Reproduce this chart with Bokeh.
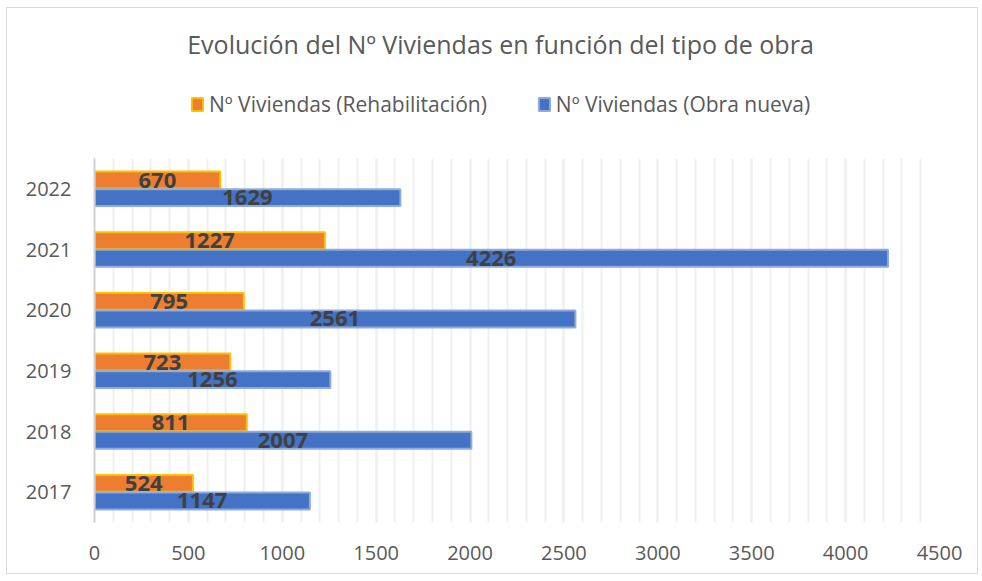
from bokeh.plotting import figure
from bokeh.layouts import column
from bokeh.models import (ColumnDataSource, FactorRange, Range1d, SingleIntervalTicker,
                          Legend, LegendItem, Label)
from bokeh.transform import dodge
from bokeh.core.properties import value
from bokeh.embed import file_html
from bokeh.resources import INLINE

years = ["2017", "2018", "2019", "2020", "2021", "2022"]
rehabilitacion = [524, 811, 723, 795, 1227, 670]
obra_nueva = [1147, 2007, 1256, 2561, 4226, 1629]
series_names = ["Nº Viviendas (Rehabilitación)", "Nº Viviendas (Obra nueva)"]
title_text = "Evolución del Nº Viviendas en función del tipo de obra"

FONT = "Open Sans"
GREY = "#595959"
ORANGE, ORANGE_LINE = "#ED7D31", "#FFC000"
BLUE, BLUE_LINE = "#4472C4", "#8FAADC"

src = ColumnDataSource(dict(
    year=years,
    reh=rehabilitacion,
    obra=obra_nueva,
    reh_half=[v / 2 for v in rehabilitacion],
    obra_half=[v / 2 for v in obra_nueva],
    reh_lbl=[str(v) for v in rehabilitacion],
    obra_lbl=[str(v) for v in obra_nueva],
))

W = 966
ML, MR = 87, 34

# ---------- header (title + legend) ----------
HH = 150
hdr = figure(width=W, height=HH, x_range=Range1d(ML, W - MR), y_range=Range1d(0, HH),
             x_axis_type=None, y_axis_type=None,
             min_border_left=ML, min_border_right=MR, min_border_top=0, min_border_bottom=0,
             output_backend="svg", toolbar_location=None)
hdr.grid.visible = False
hdr.outline_line_color = None
hdr.add_layout(Label(x=493, y=115, text=title_text, text_align="center",
                     text_baseline="alphabetic", text_font=FONT, text_font_size="25px",
                     text_color=GREY))
offscreen = ColumnDataSource(dict(y=[-1000], right=[-1000]))
d1 = hdr.hbar(y="y", right="right", left=-1001, height=1, source=offscreen,
              fill_color=ORANGE, line_color=ORANGE_LINE, line_width=2)
d2 = hdr.hbar(y="y", right="right", left=-1001, height=1, source=offscreen,
              fill_color=BLUE, line_color=BLUE_LINE, line_width=2)
legend = Legend(items=[LegendItem(label=series_names[0], renderers=[d1]),
                       LegendItem(label=series_names[1], renderers=[d2])],
                orientation="horizontal", location=(183 - ML, 40),
                border_line_color=None, background_fill_alpha=0,
                label_text_font=FONT, label_text_font_size="21px", label_text_color=GREY,
                glyph_width=14, glyph_height=16, spacing=50, label_standoff=5,
                margin=0, padding=0)
hdr.add_layout(legend)

# ---------- main chart ----------
p = figure(
    y_range=FactorRange(factors=years),
    x_range=Range1d(0, 4500),
    width=W, height=415,
    min_border_left=ML, min_border_right=MR, min_border_top=0, min_border_bottom=51,
    output_backend="svg", toolbar_location=None,
)
p.outline_line_color = None

off = 0.145
h = 0.28
p.hbar(y=dodge("year", off, range=p.y_range), right="reh", left=0, height=h, source=src,
       fill_color=ORANGE, line_color=ORANGE_LINE, line_width=2)
p.hbar(y=dodge("year", -off, range=p.y_range), right="obra", left=0, height=h, source=src,
       fill_color=BLUE, line_color=BLUE_LINE, line_width=2)

p.text(x="reh_half", y=dodge("year", off, range=p.y_range), text="reh_lbl", source=src,
       text_align="center", text_baseline="middle", text_font=value(FONT),
       text_font_style="bold", text_font_size="22px", text_color="#404040")
p.text(x="obra_half", y=dodge("year", -off, range=p.y_range), text="obra_lbl", source=src,
       text_align="center", text_baseline="middle", text_font=value(FONT),
       text_font_style="bold", text_font_size="22px", text_color="#404040")

p.xaxis.ticker = SingleIntervalTicker(interval=500, num_minor_ticks=5)
p.xaxis.axis_line_color = None
p.xaxis.major_tick_line_color = None
p.xaxis.minor_tick_line_color = None
p.xaxis.major_tick_out = 0
p.xaxis.major_label_standoff = 19
p.xaxis.major_label_text_font = FONT
p.xaxis.major_label_text_font_size = "20px"
p.xaxis.major_label_text_color = GREY

p.yaxis.axis_line_color = "#D0D0D0"
p.yaxis.axis_line_width = 2
p.yaxis.major_tick_line_color = None
p.yaxis.major_tick_out = 0
p.yaxis.major_label_standoff = 23
p.yaxis.major_label_text_font = FONT
p.yaxis.major_label_text_font_size = "20px"
p.yaxis.major_label_text_color = GREY

p.ygrid.grid_line_color = None
p.xgrid.grid_line_color = "#EFEFEF"
p.xgrid.grid_line_width = 2
p.xgrid.minor_grid_line_color = "#EFEFEF"
p.xgrid.minor_grid_line_width = 2

layout = column(hdr, p, spacing=0,
                styles={"border": "1px solid #d9d9d9", "margin": "7px 0px 0px 6px",
                        "padding-right": "4px"})

open("out.html", "w").write(file_html(layout, INLINE))
